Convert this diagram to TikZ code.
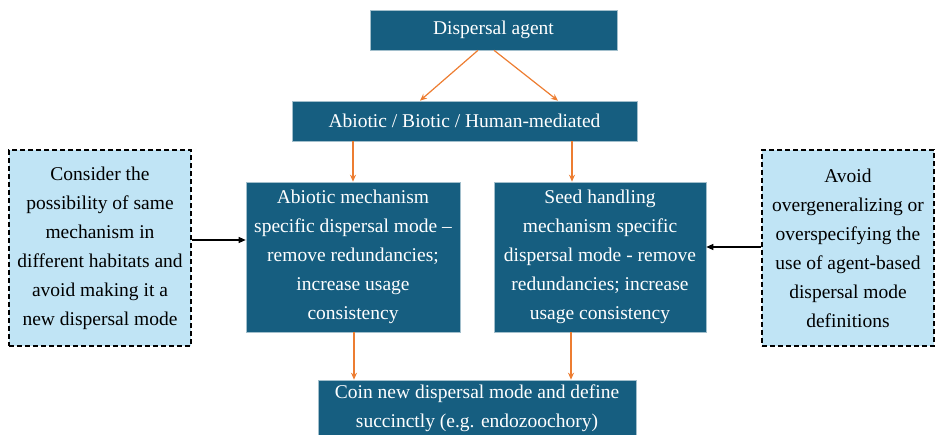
\documentclass[tikz,border=0pt]{standalone}
\usepackage{fontspec}
\setmainfont{Liberation Serif}
\usetikzlibrary{arrows.meta}
\definecolor{boxteal}{RGB}{22,94,128}
\definecolor{notefill}{RGB}{192,228,245}
\definecolor{arroworange}{RGB}{237,125,49}
\begin{document}
\begin{tikzpicture}[x=1pt, y=-1pt,
    every node/.style={font=\fontsize{19.5}{29}\selectfont, align=center, inner sep=0pt},
    tealbox/.style={fill=boxteal, draw=boxteal!40!white, line width=0.6pt, text=white},
    notebox/.style={fill=notefill, draw=black, dash pattern=on 5pt off 3pt, line width=1.1pt},
    oarrow/.style={draw=arroworange, line width=1.2pt, -{Stealth[length=7pt,width=6pt]}},
    karrow/.style={draw=black, line width=1.1pt, -{Triangle[length=7pt,width=6pt]}}]
    \useasboundingbox (0,0) rectangle (937,435);
    \node[tealbox, minimum width=247pt, minimum height=40pt] (agent) at (493.5,30) {Dispersal agent};
    \node[tealbox, minimum width=345pt, minimum height=40pt] (kind) at (464.5,121) {Abiotic / Biotic / Human-mediated};
    \node[tealbox, minimum width=214pt, minimum height=150pt] (abiomode) at (353,257) {Abiotic mechanism\\specific dispersal mode --\\remove redundancies;\\increase usage\\consistency};
    \node[tealbox, minimum width=212pt, minimum height=150pt] (seedmode) at (600,257) {Seed handling\\mechanism specific\\dispersal mode - remove\\redundancies; increase\\usage consistency};
    \node[tealbox, minimum width=318pt, minimum height=56pt] (coin) at (477,408) {Coin new dispersal mode and define\\succinctly (e.g. endozoochory)};
    \node[notebox, minimum width=182pt, minimum height=196pt] (habitat) at (100,248) {Consider the\\possibility of same\\mechanism in\\different habitats and\\avoid making it a\\new dispersal mode};
    \node[notebox, minimum width=172pt, minimum height=196pt] (general) at (848,248) {Avoid\\overgeneralizing or\\overspecifying the\\use of agent-based\\dispersal mode\\definitions};
    % orange flow
    \draw[oarrow] ([xshift=-15.5pt]agent.south) -- ([xshift=-44.5pt]kind.north);
    \draw[oarrow] ([xshift=0.5pt]agent.south) -- ([xshift=93.5pt]kind.north);
    \draw[oarrow] ([xshift=-111.5pt]kind.south) -- (abiomode.north);
    \draw[oarrow] ([xshift=107.5pt]kind.south) -- ([xshift=-28pt]seedmode.north);
    \draw[oarrow] ([xshift=1pt]abiomode.south) -- ([xshift=-123pt]coin.north);
    \draw[oarrow] ([xshift=-29pt]seedmode.south) -- ([xshift=94pt]coin.north);
    % side notes
    \draw[karrow] ([yshift=8pt]habitat.east) -- ([yshift=17pt]abiomode.west);
    \draw[karrow] ([yshift=1pt]general.west) -- ([yshift=10pt]seedmode.east);
\end{tikzpicture}
\end{document}
